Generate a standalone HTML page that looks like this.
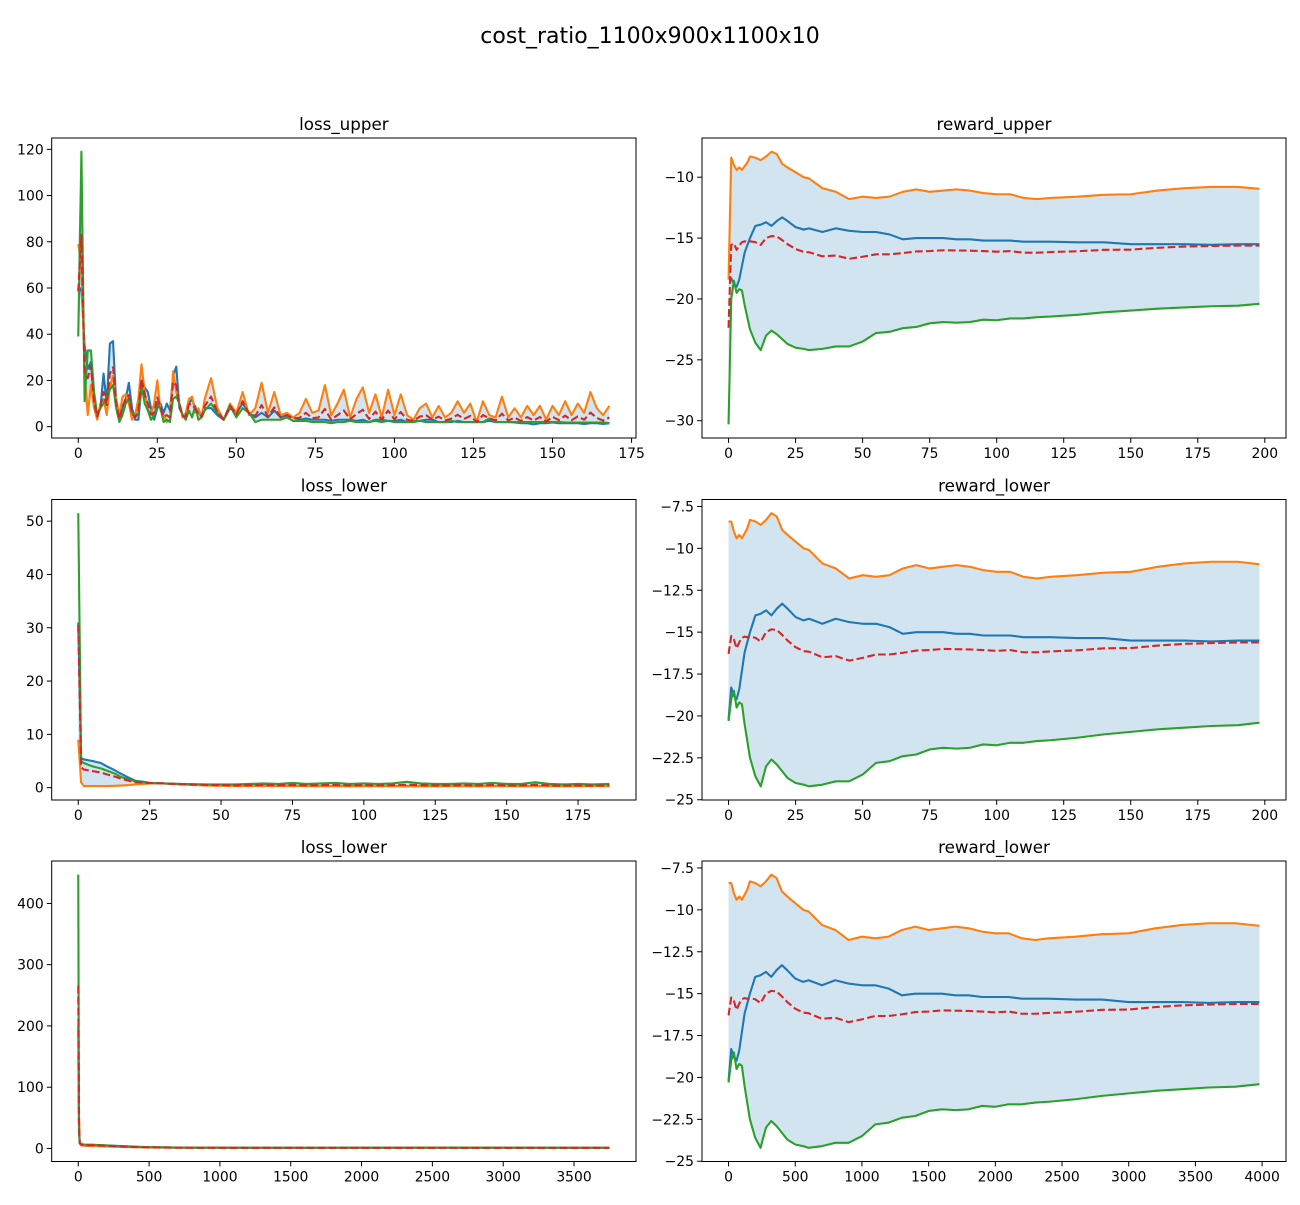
<!DOCTYPE html>
<html><head><meta charset="utf-8"><style>
html,body{margin:0;padding:0;background:#fff;}
svg text{font-family:"DejaVu Sans","Liberation Sans",sans-serif;fill:#000;}
</style></head>
<body>
<svg id="fig" width="1300" height="1200" viewBox="0 0 1300 1200" xmlns="http://www.w3.org/2000/svg">
<text x="650" y="43" font-size="22" text-anchor="middle">cost_ratio_1100x900x1100x10</text>
</svg>
<script>
// ---------- loss_upper data ----------
const luX = [];
for (let i = 0; i <= 40; i++) luX.push(i);
for (let i = 42; i <= 168; i += 2) luX.push(i);
const luOrange = [79,70,25,5,18,8,3,10,12,5,17,22,12,5,13,14,10,3,5,12,27,15,8,5,10,20,7,5,2,3,24,15,10,4,6,12,13,6,8,4,12,
 21,8,3,10,6,15,5,8,19,6,15,5,6,4,6,12,6,7,18,5,10,16,4,12,17,6,14,4,16,5,14,5,3,8,10,4,9,4,6,11,6,10,2,11,5,4,13,4,8,4,9,5,9,3,9,5,11,5,10,6,15,8,5,9];
const luBlue = [58,60,35,25,28,10,5,8,23,10,36,37,10,3,8,12,19,8,3,3,17,17,15,8,3,8,10,6,10,7,22,26,8,5,4,10,12,8,6,5,8,
 8,5,3,8,6,10,6,4,6,4,7,4,5,4,3,3.5,3,3,3,2.5,3,3,3,2.5,3,2,3,3,2.5,2.5,3,2,2.5,2.5,3,3,2,2,2,2.5,2,2,2,2,2.5,2,2,2,1.8,1.5,1.5,1,1.5,1.5,1.8,1.5,1.5,1.5,1.5,1.2,1.5,1.5,1.2,1.5];
const luGreen = [39,119,11,33,33,15,5,8,10,13,16,18,8,2,5,10,12,6,4,6,18,10,7,3,5,10,8,2,3,2,12,13,10,5,3,7,4,9,3,4,7,
 10,6,3,9,4,8,6,2,3,3,3,3,4,2.5,2.5,2.5,2,2,2,1.5,2,2,2.5,2,2,2,2.5,2,2.5,2,2,2,2,2.5,2,2,2,2,2.5,2,2,2,2,2,3.5,2,2,2,2,2,2,2,2,2,2,2,1.8,1.8,1.8,1.8,1.8,1.8,1.8,1.5];
const luXTicks = [0,25,50,75,100,125,150,175];
const luYTicks = [0,20,40,60,80,100,120];

// ---------- loss_lower (row 2) data ----------
const ll1X = [0,1,2,5,8,10,13,15,18,20,23,25,30,35,40,45,50,55,60,65,70,75,80,85,90,95,100,105,110,115,120,125,130,135,140,145,150,155,160,165,170,175,180,186];
const ll1Orange = [9,1,0.3,0.3,0.3,0.3,0.35,0.4,0.5,0.6,0.7,0.8,0.8,0.6,0.5,0.4,0.35,0.3,0.3,0.3,0.3,0.3,0.3,0.3,0.3,0.25,0.3,0.3,0.3,0.25,0.3,0.25,0.3,0.3,0.25,0.3,0.3,0.25,0.3,0.3,0.25,0.3,0.3,0.3];
const ll1Blue = [31,5.5,5.3,5,4.6,4,3.2,2.6,1.8,1.3,1.1,0.9,0.8,0.7,0.6,0.55,0.5,0.45,0.4,0.4,0.35,0.35,0.3,0.3,0.3,0.3,0.3,0.3,0.3,0.3,0.3,0.3,0.3,0.3,0.3,0.3,0.3,0.3,0.3,0.3,0.3,0.3,0.3,0.3];
const ll1Green = [51.5,5,4.6,4,3.6,3.2,2.6,2,1.5,1.2,1,0.9,0.8,0.7,0.65,0.6,0.6,0.6,0.7,0.8,0.7,0.9,0.7,0.8,0.9,0.7,0.8,0.7,0.8,1.1,0.8,0.7,0.7,0.8,0.7,0.9,0.7,0.7,1,0.7,0.6,0.7,0.6,0.7];
const ll1XTicks = [0,25,50,75,100,125,150,175];
const ll1YTicks = [0,10,20,30,40,50];

// ---------- loss_lower (row 3) data ----------
const ll2X = [0,5,10,20,50,100,200,300,400,500,700,1000,1500,2000,2500,3000,3500,3750];
const ll2Orange = [150,60,8,5,4,4,3,2.5,2,1.5,1.2,1,1,1,1,1,1,1];
const ll2Blue = [200,40,10,7,6,6,5,4,3,2,1.5,1.2,1,1,1,1,1,1];
const ll2Green = [447,30,9,7,6,6,5,3.5,2.5,2,1.5,1.2,1,1.2,1.5,1.2,1,1];
const ll2XTicks = [0,500,1000,1500,2000,2500,3000,3500];
const ll2YTicks = [0,100,200,300,400];

// ---------- reward data ----------
const rwX = [0,1,2,3,4,5,6,7,8,10,12,14,16,18,20,22,25,28,30,35,40,45,50,55,60,65,70,75,80,85,90,95,100,105,110,115,120,130,140,150,160,170,180,190,198];
const ruOrange = [-18.4,-8.4,-9.0,-9.4,-9.2,-9.4,-9.1,-8.8,-8.3,-8.4,-8.6,-8.3,-7.9,-8.1,-8.9,-9.2,-9.6,-10.0,-10.1,-10.9,-11.2,-11.8,-11.6,-11.7,-11.6,-11.2,-11.0,-11.2,-11.1,-11.0,-11.1,-11.3,-11.4,-11.4,-11.7,-11.8,-11.7,-11.6,-11.45,-11.4,-11.1,-10.9,-10.8,-10.8,-10.95];
const ruBlue = [-18.4,-18.3,-18.8,-19.0,-18.4,-17.3,-16.2,-15.6,-15.0,-14.0,-13.9,-13.7,-14.0,-13.6,-13.3,-13.6,-14.1,-14.3,-14.2,-14.5,-14.2,-14.4,-14.5,-14.5,-14.7,-15.1,-15.0,-15.0,-15.0,-15.1,-15.1,-15.2,-15.2,-15.2,-15.3,-15.3,-15.3,-15.35,-15.35,-15.5,-15.5,-15.5,-15.55,-15.5,-15.5];
const ruGreen = [-30.3,-20,-18.5,-19.5,-19.2,-19.3,-20.5,-21.5,-22.5,-23.6,-24.2,-23.0,-22.6,-22.9,-23.3,-23.7,-24.0,-24.1,-24.2,-24.1,-23.9,-23.9,-23.5,-22.8,-22.7,-22.4,-22.3,-22.0,-21.9,-21.95,-21.9,-21.7,-21.75,-21.6,-21.6,-21.5,-21.45,-21.3,-21.1,-20.95,-20.8,-20.7,-20.6,-20.55,-20.4];
const rlOrange = [-8.4,-8.4,-9.0,-9.4,-9.2,-9.4,-9.1,-8.8,-8.3,-8.4,-8.6,-8.3,-7.9,-8.1,-8.9,-9.2,-9.6,-10.0,-10.1,-10.9,-11.2,-11.8,-11.6,-11.7,-11.6,-11.2,-11.0,-11.2,-11.1,-11.0,-11.1,-11.3,-11.4,-11.4,-11.7,-11.8,-11.7,-11.6,-11.45,-11.4,-11.1,-10.9,-10.8,-10.8,-10.95];
const rlBlue = [-20.2,-18.3,-18.8,-19.0,-18.4,-17.3,-16.2,-15.6,-15.0,-14.0,-13.9,-13.7,-14.0,-13.6,-13.3,-13.6,-14.1,-14.3,-14.2,-14.5,-14.2,-14.4,-14.5,-14.5,-14.7,-15.1,-15.0,-15.0,-15.0,-15.1,-15.1,-15.2,-15.2,-15.2,-15.3,-15.3,-15.3,-15.35,-15.35,-15.5,-15.5,-15.5,-15.55,-15.5,-15.5];
const rlGreen = [-20.3,-19,-18.5,-19.5,-19.2,-19.3,-20.5,-21.5,-22.5,-23.6,-24.2,-23.0,-22.6,-22.9,-23.3,-23.7,-24.0,-24.1,-24.2,-24.1,-23.9,-23.9,-23.5,-22.8,-22.7,-22.4,-22.3,-22.0,-21.9,-21.95,-21.9,-21.7,-21.75,-21.6,-21.6,-21.5,-21.45,-21.3,-21.1,-20.95,-20.8,-20.7,-20.6,-20.55,-20.4];
const rl2X = [0,20,40,60,80,100,120,140,160,200,240,280,320,360,400,440,500,560,600,700,800,900,1000,1100,1200,1300,1400,1500,1600,1700,1800,1900,2000,2100,2200,2300,2400,2600,2800,3000,3200,3400,3600,3800,3980];
const rwXTicks = [0,25,50,75,100,125,150,175,200];
const rl2XTicks = [0,500,1000,1500,2000,2500,3000,3500,4000];
const ruYTicks = [-30,-25,-20,-15,-10];
const rlYTicks = [-25,-22.5,-20,-17.5,-15,-12.5,-10,-7.5];

const NS = 'http://www.w3.org/2000/svg';
const svg = document.getElementById('fig');
function mk(tag, attrs, parent) {
  const e = document.createElementNS(NS, tag);
  for (const k in attrs) e.setAttribute(k, attrs[k]);
  (parent || svg).appendChild(e);
  return e;
}
function fmt(v) {
  let s = String(v);
  return s.replace('-', '\u2212');
}

function plot(name, box, title, xs, O, B, G, xTicks, yTicks) {
  const g = mk('g', {});
  
  
  const R = O.map((v, i) => (O[i] + B[i] + G[i]) / 3);
  const all = O.concat(B, G);
  let ymin = Math.min(...all), ymax = Math.max(...all);
  let xmin = Math.min(...xs), xmax = Math.max(...xs);
  const yr = ymax - ymin, xr = xmax - xmin;
  ymin -= yr * 0.05; ymax += yr * 0.05; xmin -= xr * 0.05; xmax += xr * 0.05;
  const sx = v => box.x0 + (v - xmin) / (xmax - xmin) * (box.x1 - box.x0);
  const sy = v => box.y1 - (v - ymin) / (ymax - ymin) * (box.y1 - box.y0);
  const lo = xs.map((x, i) => Math.min(O[i], B[i], G[i]));
  const hi = xs.map((x, i) => Math.max(O[i], B[i], G[i]));
  let d = xs.map((x, i) => (i ? 'L' : 'M') + sx(x).toFixed(2) + ',' + sy(hi[i]).toFixed(2)).join('');
  for (let i = xs.length - 1; i >= 0; i--) d += 'L' + sx(xs[i]).toFixed(2) + ',' + sy(lo[i]).toFixed(2);
  const f = mk('path', {d: d + 'Z', fill: '#1f77b4', 'fill-opacity': 0.2, stroke: 'none'}, g);
  
  
  const series = [['blue-series', B, '#1f77b4', null], ['orange-series', O, '#ff7f0e', null], ['green-series', G, '#2ca02c', null], ['mean-series', R, '#d62728', '7.7,3.3']];
  for (const s of series) {
    const pd = xs.map((x, i) => (i ? 'L' : 'M') + sx(x).toFixed(2) + ',' + sy(s[1][i]).toFixed(2)).join('');
    const p = mk('path', {d: pd, fill: 'none', stroke: s[2], 'stroke-width': 2.1, 'stroke-linejoin': 'round'}, g);
    if (s[3]) p.setAttribute('stroke-dasharray', s[3]);
    
    
  }
  const fr = mk('rect', {x: box.x0, y: box.y0, width: box.x1 - box.x0, height: box.y1 - box.y0, fill: 'none', stroke: '#000', 'stroke-width': 1}, g);
  
  
  for (const t of xTicks) {
    const x = sx(t);
    mk('line', {x1: x, x2: x, y1: box.y1, y2: box.y1 + 4.9, stroke: '#000', 'stroke-width': 1}, g);
    const tx = mk('text', {x: x, y: box.y1 + 20, 'font-size': 13.9, 'text-anchor': 'middle'}, g);
    tx.textContent = fmt(t);
    
    
  }
  for (const t of yTicks) {
    const y = sy(t);
    mk('line', {x1: box.x0 - 4.9, x2: box.x0, y1: y, y2: y, stroke: '#000', 'stroke-width': 1}, g);
    const ty = mk('text', {x: box.x0 - 8, y: y + 5, 'font-size': 13.9, 'text-anchor': 'end'}, g);
    ty.textContent = fmt(t);
    
    
  }
  const tt = mk('text', {x: (box.x0 + box.x1) / 2, y: box.y0 - 8, 'font-size': 16.7, 'text-anchor': 'middle'}, g);
  tt.textContent = title;
  
  
}

const L = {x0: 51.7, x1: 636}, Rt = {x0: 702, x1: 1286};
const rows = [{y0: 138, y1: 438}, {y0: 499.5, y1: 800}, {y0: 861, y1: 1161.5}];
plot('loss-upper-chart', Object.assign({}, L, rows[0]), 'loss_upper', luX, luOrange, luBlue, luGreen, luXTicks, luYTicks);
plot('reward-upper-chart', Object.assign({}, Rt, rows[0]), 'reward_upper', rwX, ruOrange, ruBlue, ruGreen, rwXTicks, ruYTicks);
plot('loss-lower-chart', Object.assign({}, L, rows[1]), 'loss_lower', ll1X, ll1Orange, ll1Blue, ll1Green, ll1XTicks, ll1YTicks);
plot('reward-lower-chart', Object.assign({}, Rt, rows[1]), 'reward_lower', rwX, rlOrange, rlBlue, rlGreen, rwXTicks, rlYTicks);
plot('loss-lower-long-chart', Object.assign({}, L, rows[2]), 'loss_lower', ll2X, ll2Orange, ll2Blue, ll2Green, ll2XTicks, ll2YTicks);
plot('reward-lower-long-chart', Object.assign({}, Rt, rows[2]), 'reward_lower', rl2X, rlOrange, rlBlue, rlGreen, rl2XTicks, rlYTicks);
</script>
</body></html>
